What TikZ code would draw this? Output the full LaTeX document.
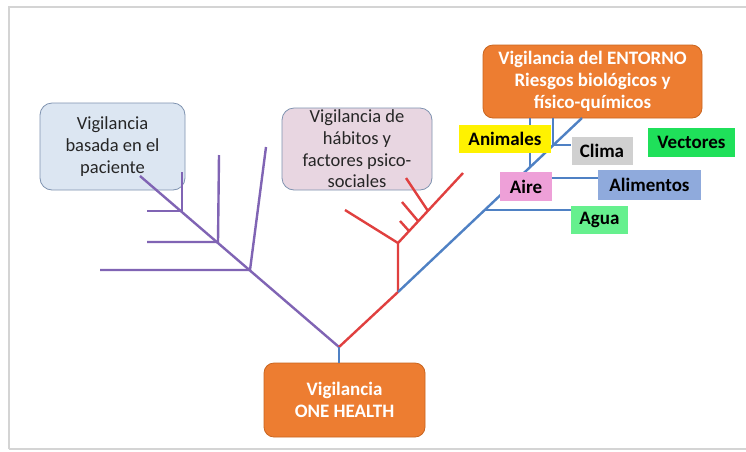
\documentclass[tikz,border=0pt]{standalone}
\usepackage{fontspec}
\setmainfont{Carlito}
\definecolor{orangebox}{HTML}{ED7D31}
\definecolor{orangeedge}{HTML}{C9651F}
\definecolor{bluefill}{HTML}{DCE6F2}
\definecolor{pinkfill}{HTML}{E8D6E1}
\definecolor{boxedge}{HTML}{7F93B0}
\definecolor{purpleline}{HTML}{8064B4}
\definecolor{redline}{HTML}{E0403F}
\definecolor{blueline}{HTML}{4F81C4}
\definecolor{yellowbox}{HTML}{FFF200}
\definecolor{graybox}{HTML}{D0D0D0}
\definecolor{greenbox}{HTML}{1FE05A}
\definecolor{pinkbox}{HTML}{EEA0D8}
\definecolor{bluebox}{HTML}{8FAADC}
\definecolor{lgreenbox}{HTML}{66F08E}
\definecolor{framegray}{HTML}{D4D4D4}
\definecolor{textgray}{HTML}{262626}
\tikzset{
  softbox/.style={draw=boxedge, line width=0.8pt, rounded corners=12pt, inner sep=0pt, align=center,
    text=textgray, font=\fontsize{18.5}{21.7}\selectfont},
  orangenode/.style={fill=orangebox, draw=orangeedge, line width=0.8pt, rounded corners=10pt, inner sep=0pt,
    align=center, text=white, font=\fontsize{19}{21.7}\selectfont\bfseries},
  tag/.style={inner sep=0pt, text=black, font=\fontsize{19}{21}\selectfont\bfseries},
  purpleseg/.style={draw=purpleline, line width=2.4pt},
  redseg/.style={draw=redline, line width=2.4pt},
  blueseg/.style={draw=blueline, line width=2.4pt}
}
\begin{document}
\begin{tikzpicture}[x=1pt,y=-1pt]
\useasboundingbox (0,0) rectangle (746,451);
\fill[white] (0,0) rectangle (746,451);
% page frame
\draw[framegray, line width=2.5pt] (9,449) -- (9,7) -- (746,7);
\draw[framegray, line width=2pt] (9,449) -- (746,449);

% background text boxes
\node[softbox, fill=bluefill, minimum width=145pt, minimum height=87pt] (patient) at (112.5,146.5)
  {Vigilancia\\basada en el\\paciente};
\node[softbox, fill=pinkfill, minimum width=150pt, minimum height=82pt] (habits) at (357,149)
  {Vigilancia de\\hábitos y\\factores psico-\\sociales};

% tree coordinates
\coordinate (root) at (339,347);
\coordinate (pend) at (140,176);
\coordinate (p1) at (182,211);
\coordinate (p2) at (218,242);
\coordinate (p3) at (250,270);
\coordinate (p1l) at (147,211);
\coordinate (p1u) at (182,172);
\coordinate (p2l) at (147,242);
\coordinate (p2u) at (219,155);
\coordinate (p3l) at (100,270);
\coordinate (p3u) at (266,147);

\coordinate (r1) at (398,292);
\coordinate (r2) at (398,243);
\coordinate (rl) at (345,210);
\coordinate (rr) at (463,173);
\coordinate (ra) at (428,211);
\coordinate (rae) at (406,178);
\coordinate (rb) at (418,221);
\coordinate (rbe) at (402,202);
\coordinate (rc) at (409,231);
\coordinate (rce) at (400,221);

\coordinate (btop) at (582,118);
\coordinate (bagua) at (485,210);
\coordinate (bali) at (518,178);
\coordinate (banim) at (530,167);
\coordinate (bclima) at (553,145);

% purple branch
\draw[purpleseg] (root) -- (pend);
\draw[purpleseg] (p1l) -- (p1) -- (p1u);
\draw[purpleseg] (p2l) -- (p2) -- (p2u);
\draw[purpleseg] (p3l) -- (p3) -- (p3u);

% red branch
\draw[redseg] (root) -- (r1) -- (r2);
\draw[redseg] (rl) -- (r2) -- (rr);
\draw[redseg] (ra) -- (rae);
\draw[redseg] (rb) -- (rbe);
\draw[redseg] (rc) -- (rce);

% top orange box
\node[orangenode, minimum width=219pt, minimum height=73pt] (env) at (592.5,81.5)
  {Vigilancia del ENTORNO\\Riesgos biológicos y\\físico-químicos};
% bottom orange box
\node[orangenode, minimum width=161pt, minimum height=74pt] (onehealth) at (344.5,400)
  {Vigilancia\\ONE HEALTH};

% blue branch
\draw[blueseg] (root |- onehealth.north) -- (root);
\draw[blueseg] (r1) -- (btop);
\draw[blueseg] (banim) -- (banim |- env.south);
\draw[blueseg] (bclima) -- (bclima |- env.south);

% tag boxes
\node[tag, fill=yellowbox, minimum width=92pt, minimum height=28pt] (animales) at (505,139) {Animales};
\node[tag, fill=graybox, minimum width=61pt, minimum height=28pt] (clima) at (602,151) {Clima};
\node[tag, fill=greenbox, minimum width=87pt, minimum height=29pt] (vectores) at (691.5,142.5) {Vectores};
\node[tag, fill=bluebox, minimum width=103pt, minimum height=30pt] (alimentos) at (649.5,185) {Alimentos};
\node[tag, fill=lgreenbox, minimum width=57pt, minimum height=28pt] (agua) at (599.5,220) {Agua};

\draw[blueseg] (bclima) -- (bclima -| clima.west);
\draw[blueseg] (bagua) -- (bagua -| agua.west);
\draw[blueseg] (bali) -- (bali -| alimentos.west);
\node[tag, fill=pinkbox, minimum width=52pt, minimum height=29pt] (aire) at (526,186.5) {Aire};
\end{tikzpicture}
\end{document}
